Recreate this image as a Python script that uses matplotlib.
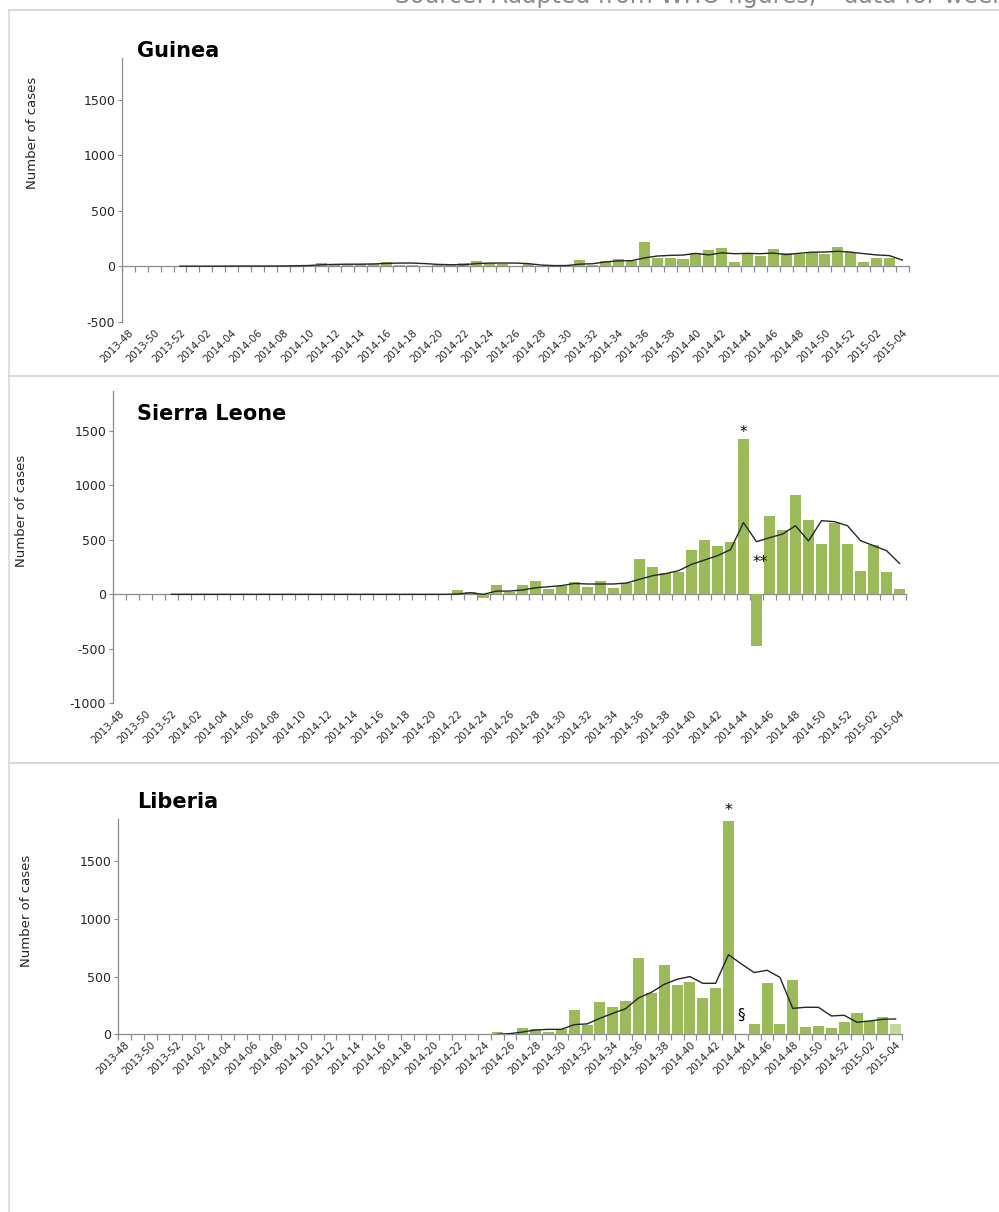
import matplotlib
matplotlib.use("Agg")
import matplotlib.pyplot as plt
from matplotlib.lines import Line2D
import numpy as np

plt.rcParams['font.family'] = ['DejaVu Sans']
plt.rcParams['axes.unicode_minus'] = False

# ---------------- data ----------------
weeks = ([f"2013-{w}" for w in range(48, 53)]
         + [f"2014-{w:02d}" for w in range(1, 53)]
         + [f"2015-{w:02d}" for w in range(1, 5)])
nan = np.nan

guinea_cases = [0, 0, 0, 0, 0,
                0, 0, 0, 0, 0, 0, 0, 0, 15, 3, 29, 20, 20, 20, 20, 41, 9, 9, 3, 12, 8,
                29, 50, 29, 18, 3, 20, 5, 0, 15, 57, 10, 48, 66, 45, 216, 72, 72, 63,
                123, 147, 168, 36, 123, 96, 156, 123, 111, 126, 111, 177, 132,
                36, 72, 72, nan]
guinea_avg = [nan, nan, nan, nan, 2,
              2, 2, 2, 3, 3, 3, 3, 4, 5, 8, 15, 18, 20, 20, 22, 27, 30, 30, 25, 18, 15,
              15, 25, 30, 30, 30, 25, 12, 7, 8, 20, 24, 40, 50, 51, 76, 93, 99, 102,
              117, 103, 122, 114, 117, 114, 120, 106, 118, 128, 129, 136, 128,
              115, 103, 97, 57]

sl_cases = [0, 0, 0, 0, 0,
            0, 0, 0, 0, 0, 0, 0, 0, 0, 0, 0, 0, 0, 0, 0, 0, 0, 0, 0, 0, 0,
            37, 20, -37, 86, 25, 86, 122, 49, 80, 116, 64, 122, 55, 107, 324, 248,
            193, 202, 407, 499, 447, 477, 1426, -474, 716, 594, 909, 679, 462, 658,
            462, 217, 453, 202, 49]
sl_avg = [nan, nan, nan, nan, 0,
          0, 0, 0, 0, 0, 0, 0, 0, 0, 0, 0, 0, 0, 0, 0, 0, 0, 0, 0, 0, 0,
          3, 15, 0, 30, 30, 40, 60, 70, 80, 100, 95, 95, 95, 104, 138, 171,
          190, 217, 275, 315, 355, 410, 658, 483, 520, 553, 630, 490, 676, 667,
          630, 493, 447, 401, 284]

lib_cases = [0, 0, 0, 0, 0,
             0, 0, 0, 0, 0, 0, 0, 0, 0, 0, 0, 0, 0, 0, 0, 0, 0, 0, 0, 0, 0,
             0, 0, 0, 20, 0, 58, 49, 23, 49, 211, 78, 277, 237, 289, 659, 355,
             601, 428, 454, 318, 405, 1850, nan, 87, 442, 92, 471, 64, 72, 58,
             110, 182, 116, 153, 87]
lib_avg = [nan] * 29 + [0, 6, 20, 38, 43, 43, 84, 90, 139, 182, 222, 315, 364,
                        433, 477, 500, 442, 442, 690, 610, 535, 555, 494, 225, 234,
                        234, 159, 165, 104, 116, 130, 133]
lib_provisional = [False] * 60 + [True]

# ---------------- style ----------------
W, H = 999, 1212
BAR = '#9BBB59'
BAR_LIGHT = '#C4D79B'
AXC = '#8C8C8C'
TXT = '#262626'
FRAME = '#D9D9D9'

fig = plt.figure(figsize=(W / 100, H / 100), dpi=100)


def px_axes(x0, x1, ytop, ybot):
    return fig.add_axes([x0 / W, 1 - ybot / H, (x1 - x0) / W, (ybot - ytop) / H])


def panel(ax, cases, avg, ylim, yticks, colors=None):
    x = np.arange(len(weeks))
    c = colors if colors is not None else BAR
    ax.bar(x, cases, width=0.86, color=c, linewidth=0, zorder=2)
    ax.plot(x, avg, color='#262626', lw=1.0, zorder=3)
    ax.set_xlim(-0.5, len(weeks) - 0.5)
    ax.set_ylim(*ylim)
    ax.set_yticks(yticks)
    ax.set_yticklabels([str(t) for t in yticks])
    ax.set_xticks(x[::2])
    ax.set_xticklabels(weeks[::2], rotation=45, ha='right', rotation_mode='anchor',
                       fontsize=7.3, color=TXT)
    ax.tick_params(axis='x', length=0, pad=4)
    ax.tick_params(axis='y', length=3, color=AXC, labelsize=9, labelcolor=TXT, pad=2)
    for s in ('top', 'right', 'bottom'):
        ax.spines[s].set_visible(False)
    ax.spines['left'].set_color(AXC)
    ax.spines['left'].set_linewidth(0.9)
    ax.patch.set_alpha(0)
    # category axis drawn on the zero line
    loc = (0 - ylim[0]) / (ylim[1] - ylim[0])
    sec = ax.secondary_xaxis(loc, functions=(lambda v: v, lambda v: v))
    sec.set_xticks(np.arange(len(weeks) + 1) - 0.5)
    sec.tick_params(length=4, color=AXC, labelbottom=False, labeltop=False, width=0.9)
    for s in sec.spines.values():
        s.set_color(AXC)
        s.set_linewidth(0.9)


# Guinea
ax1 = px_axes(122, 908.7, 58.4, 322)
panel(ax1, guinea_cases, guinea_avg, (-500, 1870), [-500, 0, 500, 1000, 1500])

# Sierra Leone
ax2 = px_axes(113, 906, 390.6, 703.3)
panel(ax2, sl_cases, sl_avg, (-1000, 1870), [-1000, -500, 0, 500, 1000, 1500])
ax2.text(48, 1490, '*', ha='center', va='center', fontsize=11, color='black')
ax2.text(49.3, 290, '**', ha='center', va='center', fontsize=11, color='black')

# Liberia
ax3 = px_axes(118, 902, 818.5, 1034.3)
lib_colors = [BAR_LIGHT if p else BAR for p in lib_provisional]
panel(ax3, lib_cases, lib_avg, (0, 1870), [0, 500, 1000, 1500], colors=lib_colors)
ax3.text(47, 1940, '*', ha='center', va='center', fontsize=11, color='black',
         clip_on=False)
ax3.text(48, 165, '\u00a7', ha='center', va='center', fontsize=11, color='black')

# titles and y labels
for name, ybase in (("Guinea", 57), ("Sierra Leone", 420), ("Liberia", 808)):
    fig.text(137 / W, 1 - ybase / H, name, fontsize=15, fontweight='bold',
             color='black', va='baseline', ha='left')
for xc, yc in ((33, 133), (22, 511), (27, 911)):
    fig.text(xc / W, 1 - yc / H, 'Number of cases', rotation=90, fontsize=9.5,
             color=TXT, ha='center', va='center')

# source line (cut at top of image, as in the original)
fig.text(395 / W, 1 - 3.5 / H, 'Source: Adapted from WHO figures; * data for week 44',
         fontsize=17, color='#8A8A8A', va='baseline', ha='left')

# frame / separators
def hline(y, x0=9, x1=999):
    fig.add_artist(Line2D([x0 / W, x1 / W], [1 - y / H, 1 - y / H],
                          color=FRAME, lw=1.5, transform=fig.transFigure))

hline(9.5)
hline(376)
hline(763)
fig.add_artist(Line2D([9 / W, 9 / W], [1 - 9.5 / H, 0], color=FRAME, lw=1.2,
                      transform=fig.transFigure))

fig.savefig('out.png', dpi=100, facecolor='white')
